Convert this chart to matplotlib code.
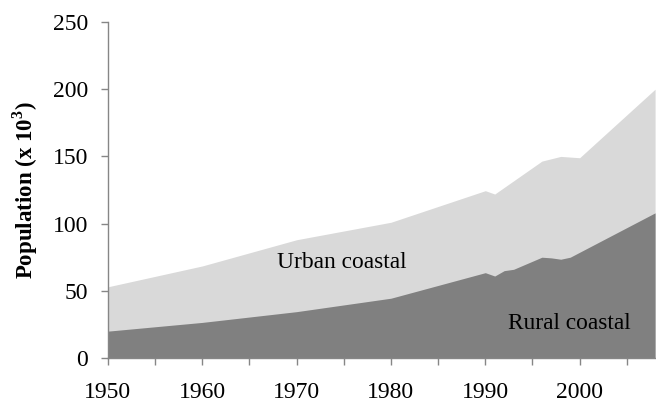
import matplotlib
matplotlib.use('Agg')
import matplotlib.pyplot as plt

# values (thousands of people)
total_years = [1950, 1960, 1970, 1980, 1990, 1991, 1996, 1998, 2000, 2008]
total_pop = [53, 68.5, 88, 101, 124.5, 122, 146.5, 150, 149, 200]

rural_years = [1950, 1960, 1970, 1980, 1990, 1991, 1992, 1993, 1996, 1997, 1998, 1999, 2008]
rural_pop = [20, 26.5, 34.5, 44.5, 63.5, 61, 65, 66, 75, 74.5, 73.5, 75, 108]

x_ticks = list(range(1950, 2006, 5))
x_labels = [str(y) if y % 10 == 0 else '' for y in x_ticks]
y_ticks = [0, 50, 100, 150, 200, 250]

plt.rcParams['font.family'] = ['Liberation Serif', 'DejaVu Serif']
plt.rcParams['mathtext.fontset'] = 'custom'
plt.rcParams['mathtext.rm'] = 'Liberation Serif'
plt.rcParams['mathtext.bf'] = 'Liberation Serif:bold'

fig = plt.figure(figsize=(6.56, 4.05), dpi=100)
ax = fig.add_axes([0.1646, 0.116, 0.834, 0.8297])

# urban coastal = area between rural and total, drawn as total behind rural
ax.fill_between(total_years, 0, total_pop, color='#d9d9d9', linewidth=0)
ax.fill_between(rural_years, 0, rural_pop, color='#808080', linewidth=0)

ax.text(1974.8, 71, 'Urban coastal', fontsize=16.8, ha='center', va='center')
ax.text(1998.9, 26, 'Rural coastal', fontsize=16.8, ha='center', va='center')

ax.set_xlim(1950, 2008)
ax.set_ylim(0, 250)
ax.set_xticks(x_ticks)
ax.set_xticklabels(x_labels)
ax.set_yticks(y_ticks)

for side in ['top', 'right']:
    ax.spines[side].set_visible(False)
for side in ['left', 'bottom']:
    ax.spines[side].set_color('#868686')
    ax.spines[side].set_linewidth(1)

ax.tick_params(axis='both', direction='out', length=5, width=1, color='#868686',
               labelsize=17)
ax.tick_params(axis='x', pad=12)
ax.tick_params(axis='y', pad=9.5)

ax.set_ylabel(r'Population (x 10$^{\mathbf{3}}$)', fontsize=16.5, fontweight='bold', labelpad=9)

plt.savefig('out.png', dpi=100)
